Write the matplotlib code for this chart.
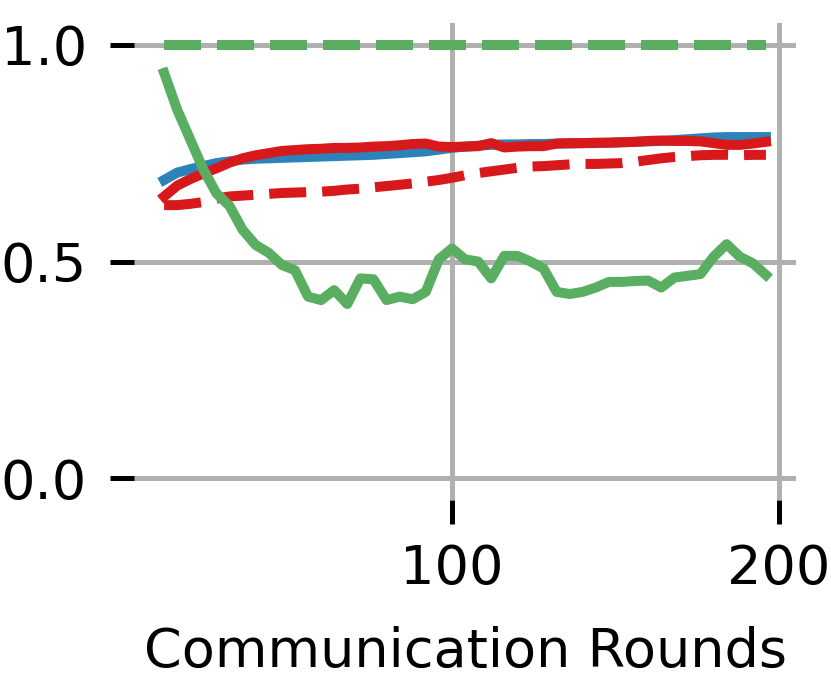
import numpy as np
import matplotlib
matplotlib.use('Agg')
import matplotlib.pyplot as plt

font = {'family': 'DejaVu Sans', 'size': 39}
matplotlib.rc('font', **font)

# communication rounds (one point every 4 rounds)
rounds = np.arange(12, 197, 4)

blue_solid = [0.688, 0.705, 0.713, 0.720, 0.727, 0.731, 0.735, 0.737, 0.738, 0.739,
              0.740, 0.741, 0.742, 0.743, 0.744, 0.745, 0.746, 0.748, 0.750, 0.752,
              0.754, 0.758, 0.762, 0.765, 0.767, 0.769, 0.770, 0.770, 0.771, 0.771,
              0.772, 0.772, 0.773, 0.773, 0.774, 0.775, 0.776, 0.777, 0.778, 0.780,
              0.782, 0.784, 0.786, 0.787, 0.787, 0.787, 0.787]

red_solid = [0.650, 0.675, 0.690, 0.703, 0.715, 0.728, 0.738, 0.745, 0.750, 0.755,
             0.757, 0.759, 0.760, 0.762, 0.762, 0.763, 0.765, 0.766, 0.768, 0.771,
             0.772, 0.765, 0.764, 0.765, 0.766, 0.773, 0.763, 0.765, 0.766, 0.766,
             0.772, 0.773, 0.773, 0.774, 0.774, 0.775, 0.776, 0.778, 0.779, 0.778,
             0.778, 0.777, 0.773, 0.769, 0.769, 0.772, 0.776]

red_dashed = [0.630, 0.630, 0.633, 0.637, 0.645, 0.650, 0.652, 0.654, 0.656, 0.658,
              0.659, 0.660, 0.661, 0.663, 0.666, 0.668, 0.671, 0.674, 0.677, 0.680,
              0.684, 0.688, 0.693, 0.699, 0.704, 0.708, 0.712, 0.716, 0.719, 0.720,
              0.722, 0.724, 0.725, 0.725, 0.726, 0.727, 0.730, 0.734, 0.738, 0.741,
              0.743, 0.745, 0.746, 0.746, 0.745, 0.746, 0.746]

green_solid = [0.935, 0.850, 0.781, 0.712, 0.657, 0.628, 0.573, 0.538, 0.520, 0.492,
               0.480, 0.419, 0.411, 0.434, 0.402, 0.461, 0.459, 0.411, 0.419, 0.413,
               0.430, 0.505, 0.530, 0.505, 0.500, 0.461, 0.513, 0.513, 0.500, 0.484,
               0.430, 0.425, 0.430, 0.440, 0.453, 0.453, 0.455, 0.456, 0.440, 0.463,
               0.467, 0.471, 0.511, 0.540, 0.511, 0.496, 0.469]

green_dashed = [1.0] * 47

BLUE = '#2b83ba'
RED = '#d7191c'
GREEN = '#5aae61'


def main():
	fig = plt.figure(figsize=(8.31, 6.81), dpi=100)
	ax = fig.add_axes([0.1613, 0.2658, 0.7966, 0.7004])

	lw = 7.2
	ax.plot(rounds, blue_solid, color=BLUE, lw=lw)
	ax.plot(rounds, red_solid, color=RED, lw=lw)
	ax.plot(rounds, red_dashed, color=RED, lw=lw, ls='--')
	ax.plot(rounds, green_solid, color=GREEN, lw=lw)
	ax.plot(rounds, green_dashed, color=GREEN, lw=lw, ls='--')

	ax.set_ylim(-0.05, 1.05)
	ax.set_xticks([100, 200])
	ax.set_yticks([0.0, 0.5, 1.0])
	ax.set_yticklabels(['0.0', '0.5', '1.0'])

	ax.grid(True, color='#b0b0b0', lw=3.6)
	ax.set_axisbelow(True)
	for s in ax.spines.values():
		s.set_visible(False)
	ax.tick_params(axis='both', length=17, width=3.6, color='black')
	ax.tick_params(axis='x', pad=14)
	ax.tick_params(axis='y', pad=17)

	ax.set_xlabel('Communication Rounds', labelpad=22)

	plt.savefig('out.png', dpi=100)


if __name__ == '__main__':
	main()
